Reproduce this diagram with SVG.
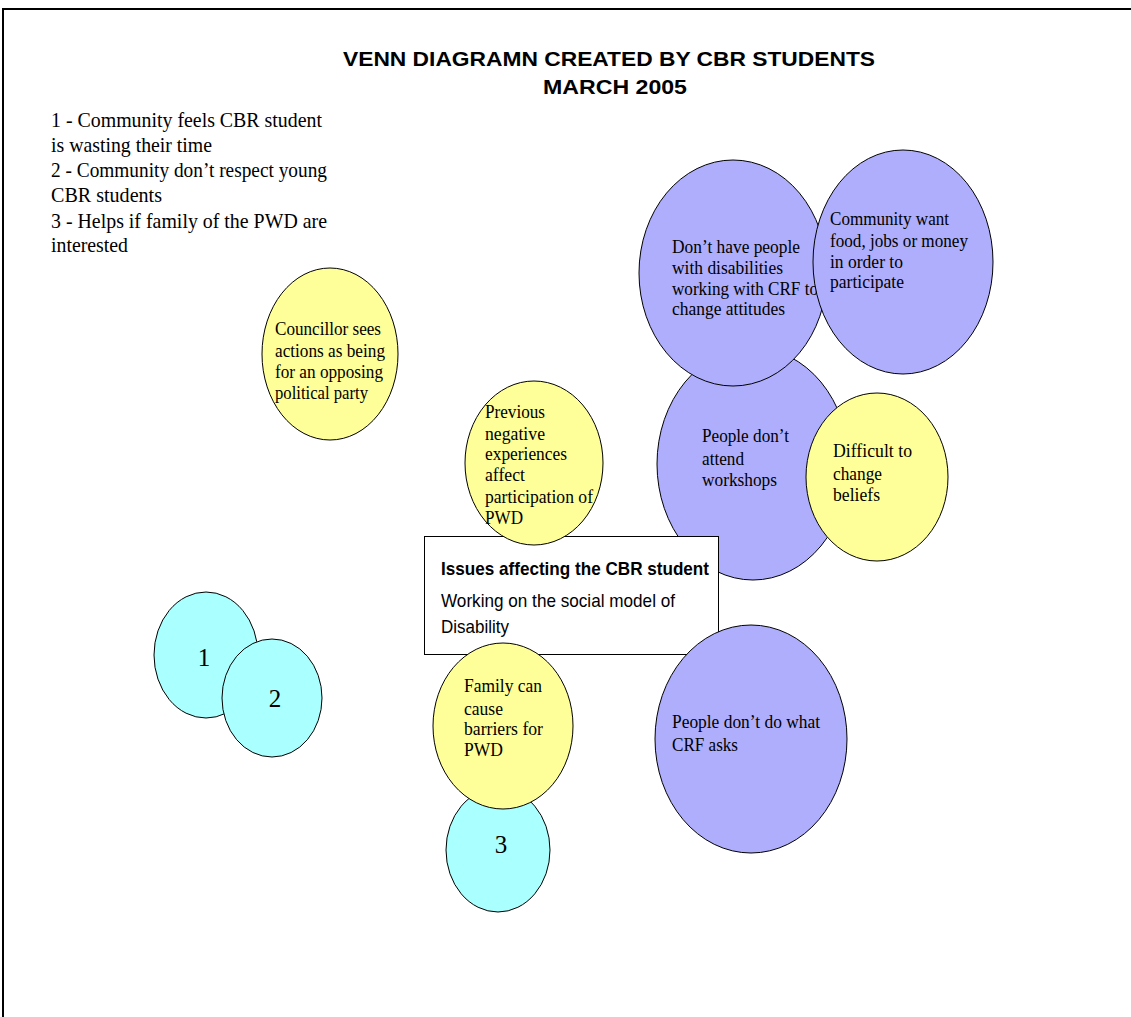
<svg xmlns="http://www.w3.org/2000/svg" width="1131" height="1017" viewBox="0 0 1131 1017">
<style>
.bg{fill:#ffffff}
.frame{fill:none;stroke:#000;stroke-width:2}
.y{fill:#ffff99;stroke:#000;stroke-width:1}
.p{fill:#aeaefc;stroke:#000;stroke-width:1}
.c{fill:#aaffff;stroke:#000;stroke-width:1}
.box{fill:#fff;stroke:#000;stroke-width:1}
.t{font-family:"Liberation Serif","Times New Roman",serif;font-size:18px;fill:#000}
.leg{font-family:"Liberation Serif","Times New Roman",serif;font-size:22px;fill:#000}
.num{font-family:"Liberation Serif","Times New Roman",serif;font-size:25px;fill:#000;text-anchor:middle}
.title{font-family:"Liberation Sans",Arial,sans-serif;font-size:21px;font-weight:bold;fill:#000}
.bs{font-family:"Liberation Sans",Arial,sans-serif;font-size:19px;fill:#000}
.bsb{font-family:"Liberation Sans",Arial,sans-serif;font-size:19px;font-weight:bold;fill:#000}
</style>
<rect class="bg" x="0" y="0" width="1131" height="1017"/>
<rect class="frame" x="3" y="9" width="1200" height="1100"/>
<g id="title">
<text class="title" x="343" y="66" textLength="532" lengthAdjust="spacingAndGlyphs">VENN DIAGRAMN CREATED BY CBR STUDENTS</text>
<text class="title" x="543" y="94" textLength="144" lengthAdjust="spacingAndGlyphs">MARCH 2005</text>
</g>
<g id="legend">
<text class="leg" x="51" y="127" textLength="271" lengthAdjust="spacingAndGlyphs">1 - Community feels CBR student</text>
<text class="leg" x="51" y="152" textLength="161" lengthAdjust="spacingAndGlyphs">is wasting their time</text>
<text class="leg" x="51" y="177" textLength="276" lengthAdjust="spacingAndGlyphs">2 - Community don’t respect young</text>
<text class="leg" x="51" y="202" textLength="111" lengthAdjust="spacingAndGlyphs">CBR students</text>
<text class="leg" x="51" y="228" textLength="276" lengthAdjust="spacingAndGlyphs">3 - Helps if family of the PWD are</text>
<text class="leg" x="51" y="252" textLength="77" lengthAdjust="spacingAndGlyphs">interested</text>
</g>
<g id="connectors"></g>
<g id="councillor">
<ellipse class="y" cx="330" cy="354" rx="68" ry="86"/>
<text class="t" x="275" y="335" textLength="106" lengthAdjust="spacingAndGlyphs">Councillor sees</text>
<text class="t" x="275" y="357" textLength="110" lengthAdjust="spacingAndGlyphs">actions as being</text>
<text class="t" x="275" y="378" textLength="108" lengthAdjust="spacingAndGlyphs">for an opposing</text>
<text class="t" x="275" y="399" textLength="93" lengthAdjust="spacingAndGlyphs">political party</text>
</g>
<g id="people-attend">
<ellipse class="p" cx="753" cy="464" rx="96" ry="116"/>
<text class="t" x="702" y="442" textLength="87" lengthAdjust="spacingAndGlyphs">People don’t</text>
<text class="t" x="702" y="465" textLength="42" lengthAdjust="spacingAndGlyphs">attend</text>
<text class="t" x="702" y="486" textLength="75" lengthAdjust="spacingAndGlyphs">workshops</text>
</g>
<g id="dont-have">
<ellipse class="p" cx="733" cy="273" rx="94" ry="113"/>
<text class="t" x="672" y="253" textLength="128" lengthAdjust="spacingAndGlyphs">Don’t have people</text>
<text class="t" x="672" y="274" textLength="111" lengthAdjust="spacingAndGlyphs">with disabilities</text>
<text class="t" x="672" y="295" textLength="146" lengthAdjust="spacingAndGlyphs">working with CRF to</text>
<text class="t" x="672" y="315" textLength="113" lengthAdjust="spacingAndGlyphs">change attitudes</text>
</g>
<g id="community-want">
<ellipse class="p" cx="903" cy="262" rx="90" ry="112"/>
<text class="t" x="830" y="225" textLength="119" lengthAdjust="spacingAndGlyphs">Community want</text>
<text class="t" x="830" y="247" textLength="138" lengthAdjust="spacingAndGlyphs">food, jobs or money</text>
<text class="t" x="830" y="268" textLength="73" lengthAdjust="spacingAndGlyphs">in order to</text>
<text class="t" x="830" y="288" textLength="74" lengthAdjust="spacingAndGlyphs">participate</text>
</g>
<g id="difficult">
<ellipse class="y" cx="877" cy="477" rx="71" ry="84"/>
<text class="t" x="833" y="457" textLength="79" lengthAdjust="spacingAndGlyphs">Difficult to</text>
<text class="t" x="833" y="480" textLength="49" lengthAdjust="spacingAndGlyphs">change</text>
<text class="t" x="833" y="501" textLength="47" lengthAdjust="spacingAndGlyphs">beliefs</text>
</g>
<g id="center-box">
<rect class="box" x="424.5" y="536.5" width="294" height="118"/>
<text class="bsb" x="441" y="575" textLength="268" lengthAdjust="spacingAndGlyphs">Issues affecting the CBR student</text>
<text class="bs" x="441" y="607" textLength="234" lengthAdjust="spacingAndGlyphs">Working on the social model of</text>
<text class="bs" x="441" y="633" textLength="68" lengthAdjust="spacingAndGlyphs">Disability</text>
</g>
<g id="previous">
<ellipse class="y" cx="534" cy="463" rx="69" ry="82"/>
<text class="t" x="485" y="418" textLength="60" lengthAdjust="spacingAndGlyphs">Previous</text>
<text class="t" x="485" y="440" textLength="60" lengthAdjust="spacingAndGlyphs">negative</text>
<text class="t" x="485" y="460" textLength="82" lengthAdjust="spacingAndGlyphs">experiences</text>
<text class="t" x="485" y="481" textLength="40" lengthAdjust="spacingAndGlyphs">affect</text>
<text class="t" x="485" y="503" textLength="108" lengthAdjust="spacingAndGlyphs">participation of</text>
<text class="t" x="485" y="524" textLength="38" lengthAdjust="spacingAndGlyphs">PWD</text>
</g>
<g id="circle-3">
<ellipse class="c" cx="498" cy="850" rx="52" ry="62"/>
<text class="num" x="501" y="853">3</text>
</g>
<g id="family">
<ellipse class="y" cx="503" cy="726" rx="70" ry="83"/>
<text class="t" x="464" y="692" textLength="78" lengthAdjust="spacingAndGlyphs">Family can</text>
<text class="t" x="464" y="715" textLength="39" lengthAdjust="spacingAndGlyphs">cause</text>
<text class="t" x="464" y="735" textLength="79" lengthAdjust="spacingAndGlyphs">barriers for</text>
<text class="t" x="464" y="756" textLength="39" lengthAdjust="spacingAndGlyphs">PWD</text>
</g>
<g id="people-do-what">
<ellipse class="p" cx="751" cy="739" rx="96" ry="114"/>
<text class="t" x="672" y="728" textLength="148" lengthAdjust="spacingAndGlyphs">People don’t do what</text>
<text class="t" x="672" y="751" textLength="66" lengthAdjust="spacingAndGlyphs">CRF asks</text>
</g>
<g id="circle-1">
<ellipse class="c" cx="206" cy="655" rx="52" ry="63"/>
<text class="num" x="204" y="666">1</text>
</g>
<g id="circle-2">
<ellipse class="c" cx="272" cy="698" rx="50" ry="59"/>
<text class="num" x="275" y="707">2</text>
</g>
</svg>
